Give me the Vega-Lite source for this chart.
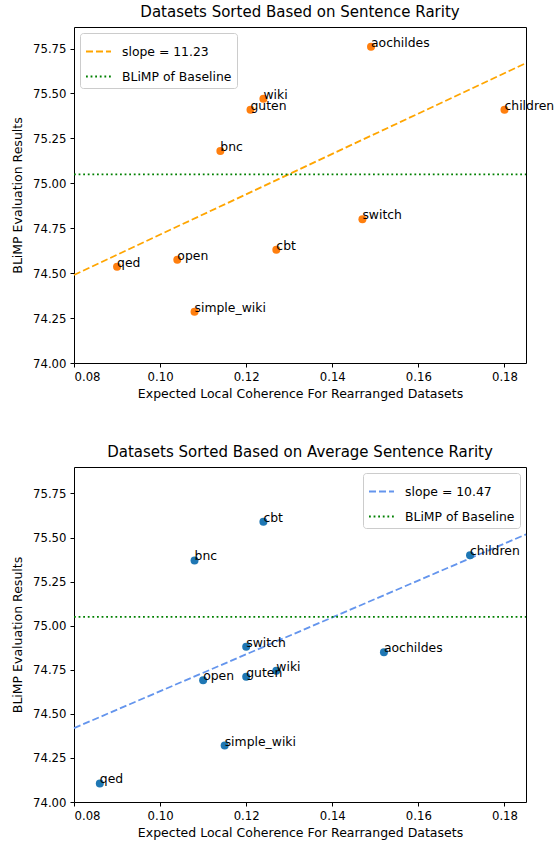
{
  "$schema": "https://vega.github.io/schema/vega-lite/v6.json",
  "background": "white",
  "padding": {"left": 11, "top": 4, "right": 5, "bottom": 5},
  "config": {
    "font": "DejaVu Sans",
    "view": {"stroke": "black", "strokeWidth": 1},
    "axis": {
      "grid": false,
      "domain": false,
      "tickColor": "black",
      "tickSize": 4,
      "tickWidth": 1,
      "labelPadding": 4,
      "labelFontSize": 11.7,
      "labelColor": "black",
      "titleFontSize": 12.5,
      "titleFontWeight": "normal",
      "titleColor": "black"
    },
    "title": {"fontSize": 15, "fontWeight": "normal", "color": "black", "offset": 7},
    "legend": {
      "offset": 6,
      "title": null,
      "strokeColor": "#cccccc",
      "fillColor": "white",
      "cornerRadius": 3,
      "padding": 5,
      "labelFontSize": 12.4,
      "labelColor": "black",
      "symbolType": "stroke",
      "symbolSize": 625,
      "symbolStrokeWidth": 1.8,
      "rowPadding": 5,
      "labelOffset": 10
    },
    "concat": {"spacing": 43}
  },
  "datasets": {
    "top_pts": [
      {"name": "aochildes", "x": 0.149, "y": 75.76},
      {"name": "wiki", "x": 0.124, "y": 75.47},
      {"name": "guten", "x": 0.121, "y": 75.41},
      {"name": "children", "x": 0.18, "y": 75.41},
      {"name": "bnc", "x": 0.114, "y": 75.18},
      {"name": "switch", "x": 0.147, "y": 74.80},
      {"name": "cbt", "x": 0.127, "y": 74.63},
      {"name": "open", "x": 0.104, "y": 74.575},
      {"name": "qed", "x": 0.09, "y": 74.535},
      {"name": "simple_wiki", "x": 0.108, "y": 74.285}
    ],
    "top_lines": [
      {"series": "slope = 11.23", "x": 0.08, "y": 74.49},
      {"series": "slope = 11.23", "x": 0.185, "y": 75.669},
      {"series": "BLiMP of Baseline", "x": 0.08, "y": 75.05},
      {"series": "BLiMP of Baseline", "x": 0.185, "y": 75.05}
    ],
    "bot_pts": [
      {"name": "cbt", "x": 0.124, "y": 75.59},
      {"name": "bnc", "x": 0.108, "y": 75.37},
      {"name": "children", "x": 0.172, "y": 75.40},
      {"name": "switch", "x": 0.12, "y": 74.88},
      {"name": "aochildes", "x": 0.152, "y": 74.85},
      {"name": "wiki", "x": 0.127, "y": 74.745},
      {"name": "guten", "x": 0.12, "y": 74.71},
      {"name": "open", "x": 0.11, "y": 74.69},
      {"name": "simple_wiki", "x": 0.115, "y": 74.32},
      {"name": "qed", "x": 0.086, "y": 74.105}
    ],
    "bot_lines": [
      {"series": "slope = 10.47", "x": 0.08, "y": 74.419},
      {"series": "slope = 10.47", "x": 0.185, "y": 75.518},
      {"series": "BLiMP of Baseline", "x": 0.08, "y": 75.05},
      {"series": "BLiMP of Baseline", "x": 0.185, "y": 75.05}
    ]
  },
  "resolve": {"scale": {"color": "independent", "strokeDash": "independent"}},
  "vconcat": [
    {
      "title": "Datasets Sorted Based on Sentence Rarity",
      "width": 452,
      "height": 336,
      "encoding": {
        "x": {"field": "x", "type": "quantitative", "scale": {"domain": [0.08, 0.185], "nice": false, "zero": false},
              "axis": {"values": [0.08, 0.10, 0.12, 0.14, 0.16, 0.18], "format": ".2f", "title": "Expected Local Coherence For Rearranged Datasets", "titlePadding": 5}},
        "y": {"field": "y", "type": "quantitative", "scale": {"domain": [74.0, 75.87], "nice": false, "zero": false},
              "axis": {"values": [74.0, 74.25, 74.5, 74.75, 75.0, 75.25, 75.5, 75.75], "format": ".2f", "title": "BLiMP Evaluation Results", "titlePadding": 8}}
      },
      "layer": [
        {
          "data": {"name": "top_lines"},
          "mark": {"type": "line", "strokeWidth": 1.8},
          "encoding": {
            "detail": {"field": "series"},
            "color": {"field": "series", "type": "nominal", "sort": null,
                      "scale": {"domain": ["slope = 11.23", "BLiMP of Baseline"], "range": ["orange", "green"]},
                      "legend": {"orient": "top-left"}},
            "strokeDash": {"field": "series", "type": "nominal", "sort": null,
                      "scale": {"domain": ["slope = 11.23", "BLiMP of Baseline"], "range": [[7, 3], [1.8, 2.8]]},
                      "legend": {"orient": "top-left"}}
          }
        },
        {
          "data": {"name": "top_pts"},
          "mark": {"type": "circle", "size": 64, "opacity": 1, "color": "#ff7f0e"}
        },
        {
          "data": {"name": "top_pts"},
          "mark": {"type": "text", "align": "left", "baseline": "alphabetic", "fontSize": 12.4, "color": "black"},
          "encoding": {"text": {"field": "name"}}
        }
      ]
    },
    {
      "title": "Datasets Sorted Based on Average Sentence Rarity",
      "width": 452,
      "height": 335,
      "encoding": {
        "x": {"field": "x", "type": "quantitative", "scale": {"domain": [0.08, 0.185], "nice": false, "zero": false},
              "axis": {"values": [0.08, 0.10, 0.12, 0.14, 0.16, 0.18], "format": ".2f", "title": "Expected Local Coherence For Rearranged Datasets", "titlePadding": 5}},
        "y": {"field": "y", "type": "quantitative", "scale": {"domain": [74.0, 75.9], "nice": false, "zero": false},
              "axis": {"values": [74.0, 74.25, 74.5, 74.75, 75.0, 75.25, 75.5, 75.75], "format": ".2f", "title": "BLiMP Evaluation Results", "titlePadding": 8}}
      },
      "layer": [
        {
          "data": {"name": "bot_lines"},
          "mark": {"type": "line", "strokeWidth": 1.8},
          "encoding": {
            "detail": {"field": "series"},
            "color": {"field": "series", "type": "nominal", "sort": null,
                      "scale": {"domain": ["slope = 10.47", "BLiMP of Baseline"], "range": ["cornflowerblue", "green"]},
                      "legend": {"orient": "top-right"}},
            "strokeDash": {"field": "series", "type": "nominal", "sort": null,
                      "scale": {"domain": ["slope = 10.47", "BLiMP of Baseline"], "range": [[7, 3], [1.8, 2.8]]},
                      "legend": {"orient": "top-right"}}
          }
        },
        {
          "data": {"name": "bot_pts"},
          "mark": {"type": "circle", "size": 64, "opacity": 1, "color": "#1f77b4"}
        },
        {
          "data": {"name": "bot_pts"},
          "mark": {"type": "text", "align": "left", "baseline": "alphabetic", "fontSize": 12.4, "color": "black"},
          "encoding": {"text": {"field": "name"}}
        }
      ]
    }
  ]
}
